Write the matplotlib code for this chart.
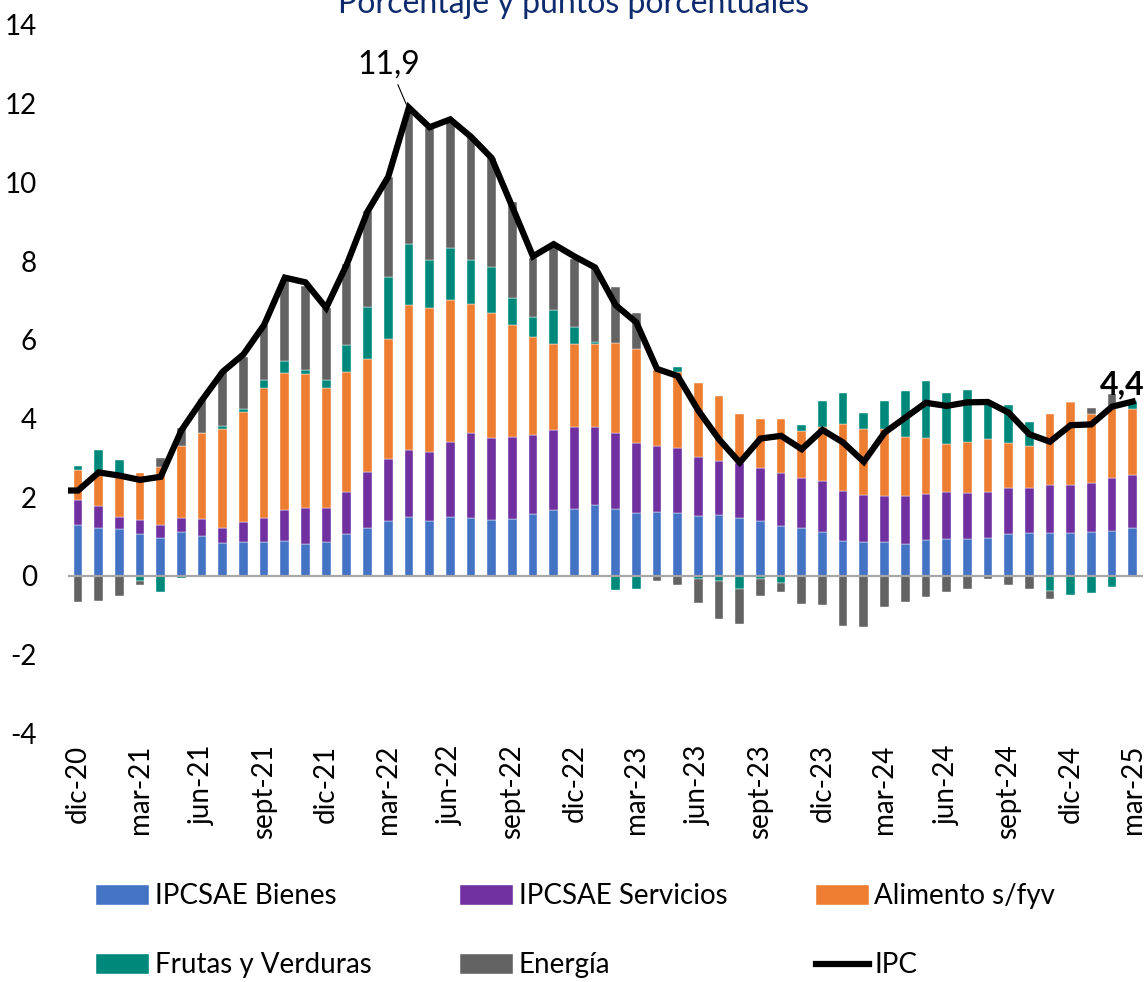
import matplotlib
matplotlib.use('Agg')
import matplotlib.pyplot as plt
import numpy as np

plt.rcParams['font.family'] = ['Lato', 'DejaVu Sans']
plt.rcParams['axes.unicode_minus'] = False

# meses (dic-20 a mar-25)
meses = ['dic-20', 'ene-21', 'feb-21', 'mar-21', 'abr-21', 'may-21', 'jun-21', 'jul-21', 'ago-21',
         'sept-21', 'oct-21', 'nov-21', 'dic-21', 'ene-22', 'feb-22', 'mar-22', 'abr-22', 'may-22',
         'jun-22', 'jul-22', 'ago-22', 'sept-22', 'oct-22', 'nov-22', 'dic-22', 'ene-23', 'feb-23',
         'mar-23', 'abr-23', 'may-23', 'jun-23', 'jul-23', 'ago-23', 'sept-23', 'oct-23', 'nov-23',
         'dic-23', 'ene-24', 'feb-24', 'mar-24', 'abr-24', 'may-24', 'jun-24', 'jul-24', 'ago-24',
         'sept-24', 'oct-24', 'nov-24', 'dic-24', 'ene-25', 'feb-25', 'mar-25']

bienes = [1.30, 1.23, 1.19, 1.06, 0.96, 1.11, 1.02, 0.83, 0.86, 0.86, 0.88, 0.80, 0.87,
          1.06, 1.21, 1.39, 1.49, 1.39, 1.51, 1.47, 1.41, 1.45, 1.57, 1.67, 1.71, 1.81,
          1.69, 1.61, 1.63, 1.61, 1.52, 1.54, 1.46, 1.40, 1.26, 1.21, 1.11, 0.90, 0.85,
          0.85, 0.82, 0.92, 0.93, 0.93, 0.97, 1.06, 1.10, 1.10, 1.10, 1.12, 1.15, 1.23]
servicios = [0.63, 0.55, 0.30, 0.35, 0.34, 0.37, 0.42, 0.40, 0.50, 0.62, 0.80, 0.93, 0.86,
             1.06, 1.44, 1.57, 1.72, 1.77, 1.90, 2.15, 2.10, 2.07, 2.01, 2.04, 2.08, 1.97,
             1.94, 1.77, 1.67, 1.63, 1.50, 1.38, 1.42, 1.34, 1.36, 1.27, 1.29, 1.25, 1.21,
             1.17, 1.20, 1.16, 1.20, 1.17, 1.16, 1.17, 1.13, 1.20, 1.20, 1.25, 1.33, 1.33]
alimentos = [0.75, 0.87, 1.06, 1.21, 1.46, 1.81, 2.20, 2.51, 2.80, 3.30, 3.47, 3.40, 3.05,
             3.05, 2.85, 3.05, 3.68, 3.65, 3.59, 3.29, 3.16, 2.85, 2.48, 2.19, 2.10, 2.12,
             2.30, 2.38, 1.92, 1.93, 1.87, 1.65, 1.23, 1.24, 1.38, 1.20, 1.39, 1.70, 1.68,
             1.71, 1.50, 1.42, 1.22, 1.31, 1.36, 1.16, 1.07, 1.81, 2.11, 1.75, 1.80, 1.67]
frutas = [0.12, 0.55, 0.39, -0.13, -0.42, -0.05, 0.00, 0.08, 0.09, 0.20, 0.32, 0.09, 0.21,
          0.69, 1.33, 1.59, 1.54, 1.23, 1.33, 1.12, 1.18, 0.68, 0.52, 0.85, 0.44, 0.05,
          -0.36, -0.34, 0.00, 0.15, -0.08, -0.14, -0.34, -0.08, -0.17, 0.16, 0.66, 0.79, 0.41,
          0.71, 1.18, 1.45, 1.31, 1.32, 0.96, 0.96, 0.62, -0.39, -0.49, -0.44, -0.28, 0.21]
energia = [-0.65, -0.63, -0.51, -0.09, 0.23, 0.46, 0.85, 1.37, 1.32, 1.40, 2.05, 2.15, 1.82,
           2.06, 2.43, 2.54, 3.38, 3.35, 3.25, 3.13, 2.76, 2.45, 1.51, 1.64, 1.72, 1.89,
           1.42, 0.93, -0.13, -0.23, -0.60, -0.96, -0.89, -0.43, -0.25, -0.72, -0.75, -1.27, -1.29,
           -0.79, -0.65, -0.53, -0.40, -0.34, -0.08, -0.24, -0.32, -0.20, 0.00, 0.14, 0.34, 0.00]
ipc_nov20 = 2.17
ipc = [2.17, 2.63, 2.55, 2.44, 2.52, 3.70, 4.47, 5.19, 5.63, 6.38, 7.58, 7.46, 6.81,
       7.92, 9.26, 10.14, 11.90, 11.40, 11.60, 11.16, 10.62, 9.38, 8.12, 8.43, 8.12, 7.84,
       6.88, 6.44, 5.26, 5.08, 4.20, 3.47, 2.88, 3.49, 3.56, 3.22, 3.71, 3.39, 2.90,
       3.64, 4.02, 4.40, 4.32, 4.41, 4.42, 4.15, 3.60, 3.41, 3.83, 3.85, 4.30, 4.43]

series = [('IPCSAE Bienes', bienes, '#4472C4'),
          ('IPCSAE Servicios', servicios, '#7030A0'),
          ('Alimento s/fyv', alimentos, '#ED7D31'),
          ('Frutas y Verduras', frutas, '#00897B'),
          ('Energía', energia, '#636363')]

fig = plt.figure(figsize=(11.47, 9.82), dpi=100)
ax = fig.add_axes([0.059, 0.2532, 0.9375, 0.7214])

x = np.arange(len(meses))
pos_base = np.zeros(len(x))
neg_base = np.zeros(len(x))
handles = {}
for name, vals, col in series:
    v = np.array(vals)
    bottom = np.where(v >= 0, pos_base, neg_base)
    b = ax.bar(x, v, 0.42, bottom=bottom, color=col, edgecolor='white', linewidth=0.3, label=name)
    handles[name] = b
    pos_base += np.clip(v, 0, None)
    neg_base += np.clip(v, None, 0)

ax.axhline(0, color='#a6a6a6', lw=1.6, zorder=1)
line, = ax.plot(np.arange(-1, len(x)), [ipc_nov20] + ipc, color='black', lw=4.5,
                solid_joinstyle='miter', label='IPC', zorder=5)

ax.annotate('11,9', xy=(15.9, 11.95), xytext=(15.05, 13.0), ha='center', va='center',
            fontsize=23, arrowprops=dict(arrowstyle='-', color='black', lw=0.8,
                                         shrinkA=2, shrinkB=1))
ax.text(50.5, 4.85, '4,4', ha='center', va='center', fontsize=23, fontweight='bold')

ax.set_xlim(-0.5, 51.5)
ax.set_ylim(-4, 14)
ax.set_yticks(np.arange(-4, 15, 2))
ax.set_xticks(x[::3])
ax.set_xticklabels(meses[::3], rotation=90)
ax.tick_params(axis='both', length=0, labelsize=20)
ax.tick_params(axis='y', pad=22)
ax.tick_params(axis='x', pad=8)
for s in ax.spines.values():
    s.set_visible(False)

fig.text(0.5, 0.9868, 'Porcentaje y puntos porcentuales', ha='center', va='baseline',
         fontsize=23, color='#0e2b6e')

order = ['IPCSAE Bienes', 'Frutas y Verduras', 'IPCSAE Servicios', 'Energía', 'Alimento s/fyv']
hl = [handles['IPCSAE Bienes'], handles['Frutas y Verduras'], handles['IPCSAE Servicios'],
      handles['Energía'], handles['Alimento s/fyv'], line]
lb = order + ['IPC']
fig.legend(hl, lb, ncol=3, loc='center', bbox_to_anchor=(0.502, 0.052), frameon=False,
           fontsize=20, handlelength=1.9, handleheight=0.75, handletextpad=0.2,
           labelspacing=1.55, columnspacing=3.2)

fig.savefig('out.png', dpi=100)
